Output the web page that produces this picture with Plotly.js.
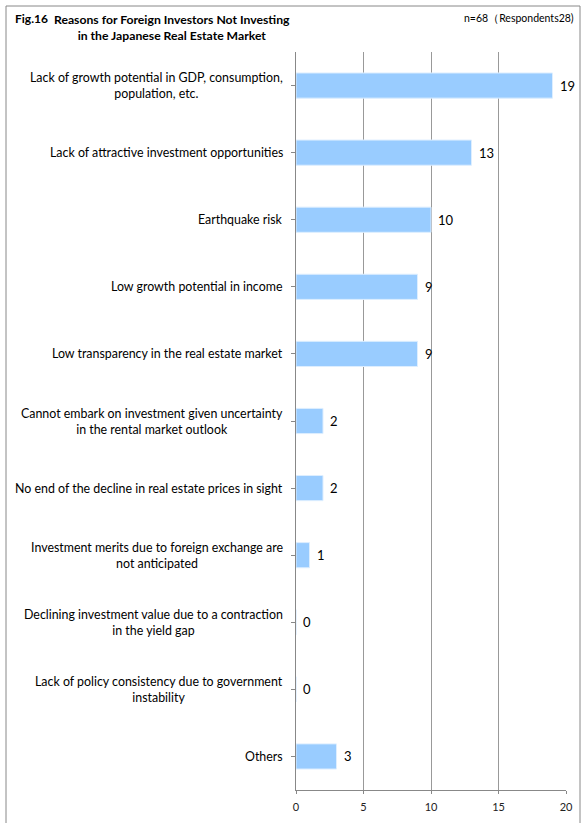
<!DOCTYPE html>
<html>
<head>
<meta charset="utf-8">
<script src="https://cdn.plot.ly/plotly-3.0.1.min.js"></script>
<style>html,body{margin:0;padding:0;background:#fff;}#chart{width:582px;height:823px;}</style>
</head>
<body>
<div id="chart"></div>
<script>
const categories = [
  "Lack of growth potential in GDP, consumption,<br>population, etc.",
  "Lack of attractive investment opportunities",
  "Earthquake risk",
  "Low growth potential in income",
  "Low transparency in the real estate market",
  "Cannot embark on investment given uncertainty<br>in the rental market outlook",
  "No end of the decline in real estate prices in sight",
  "Investment merits due to foreign exchange are<br>not anticipated",
  "Declining investment value due to a contraction<br>in the yield gap",
  "Lack of policy consistency due to government<br>instability",
  "Others"
];
const values = [19, 13, 10, 9, 9, 2, 2, 1, 0, 0, 3];
const xTicks = [0, 5, 10, 15, 20];

const W = 582, H = 823, L = 296, R = 16, T = 52, B = 33;
const PW = W - L - R, PH = H - T - B;
const px = x => (x - L) / PW;
const py = y => (H - B - y) / PH;
const FONT = "Lato, 'Open Sans', sans-serif";

const ann = [];
categories.forEach((c, i) => {
  ann.push({xref: 'paper', yref: 'y', x: px(285), y: i, text: c, showarrow: false,
    xanchor: 'right', yanchor: 'middle', align: 'center',
    font: {family: FONT, size: 12.4, color: '#000'}});
  ann.push({xref: 'x', yref: 'y', x: values[i], y: i, text: String(values[i]), showarrow: false,
    xanchor: 'left', yanchor: 'middle', xshift: 5,
    font: {family: FONT, size: 13, color: '#000'}});
});
ann.push({xref: 'paper', yref: 'paper', x: px(13), y: py(18), text: '<b>Fig.16</b>', showarrow: false,
  xanchor: 'left', yanchor: 'middle', font: {family: FONT, size: 12, color: '#000'}});
ann.push({xref: 'paper', yref: 'paper', x: px(172), y: py(27),
  text: '<b>Reasons for Foreign Investors Not Investing<br>in the Japanese Real Estate Market</b>', showarrow: false,
  xanchor: 'center', yanchor: 'middle', align: 'center', font: {family: FONT, size: 12.2, color: '#000'}});
ann.push({xref: 'paper', yref: 'paper', x: px(576), y: py(18), text: 'n=68（Respondents28)', showarrow: false,
  xanchor: 'right', yanchor: 'middle', font: {family: FONT, size: 10.5, color: '#000'}});

const border = '#888';
const shapes = [
  {type: 'line', xref: 'paper', yref: 'paper', x0: px(6), x1: px(6), y0: py(6), y1: py(823), line: {color: border, width: 1}},
  {type: 'line', xref: 'paper', yref: 'paper', x0: px(6), x1: px(580), y0: py(6), y1: py(6), line: {color: border, width: 1}},
  {type: 'line', xref: 'paper', yref: 'paper', x0: px(580), x1: px(580), y0: py(6), y1: py(823), line: {color: border, width: 1}}
];

const trace = {
  type: 'bar', orientation: 'h', x: values, y: categories.map((c, i) => i),
  marker: {color: '#99CCFF', line: {color: '#DDEEFF', width: 1}},
  hoverinfo: 'none'
};

const layout = {
  width: W, height: H, margin: {l: L, r: R, t: T, b: B},
  paper_bgcolor: '#fff', plot_bgcolor: '#fff', showlegend: false, bargap: 0.625,
  xaxis: {range: [0, 20], tickvals: xTicks, ticktext: xTicks.map(String), showgrid: true,
    gridcolor: '#999', gridwidth: 1, zeroline: false, showline: true, linecolor: '#888',
    ticks: 'outside', ticklen: 3, tickcolor: '#888', ticklabelstandoff: 4,
    tickfont: {family: FONT, size: 11, color: '#222'}, fixedrange: true},
  yaxis: {range: [10.5, -0.5], tickvals: categories.map((c, i) => i), showticklabels: false,
    ticks: 'outside', tickson: 'boundaries', ticklen: 4, tickcolor: '#888',
    showgrid: false, zeroline: false, showline: true, linecolor: '#888', fixedrange: true},
  annotations: ann, shapes: shapes
};

Plotly.newPlot('chart', [trace], layout, {displayModeBar: false, staticPlot: true});
</script>
</body>
</html>
